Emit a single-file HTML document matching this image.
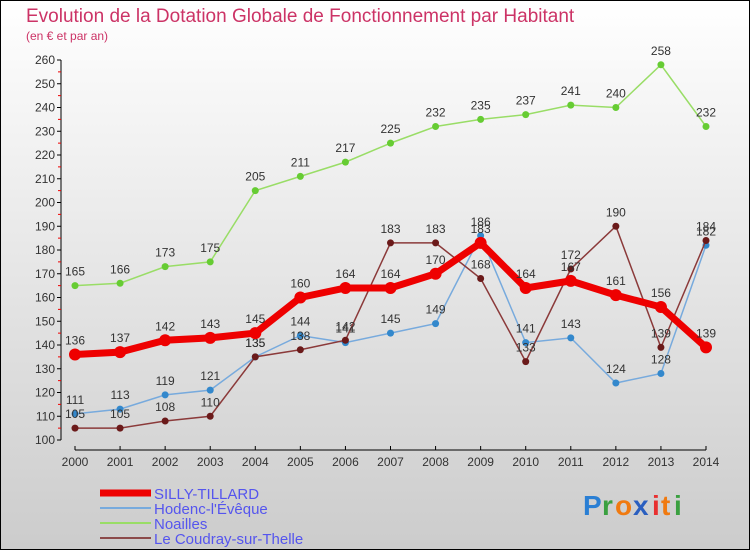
<!DOCTYPE html>
<html><head><meta charset="utf-8"><style>
body{margin:0;width:750px;height:550px;overflow:hidden}
svg text{font-family:"Liberation Sans",sans-serif}
</style></head><body>
<svg id="chart" width="750" height="550" xmlns="http://www.w3.org/2000/svg">
<defs><linearGradient id="bg" x1="0" y1="0" x2="0" y2="1"><stop offset="0" stop-color="#ffffff"/><stop offset="1" stop-color="#cccccc"/></linearGradient></defs>
<rect x="0.5" y="0.5" width="749" height="549" fill="url(#bg)" stroke="#000"/>
<text x="26" y="22" font-size="19" fill="#cc3366">Evolution de la Dotation Globale de Fonctionnement par Habitant</text>
<text x="26" y="40" font-size="12" fill="#cc3366">(en € et par an)</text>
<g id="axes"></g><g id="series"></g><g id="legend"></g>
<g font-size="28" font-weight="bold">
<text x="583" y="515" fill="#2a7fd4">P</text><text x="602" y="515" fill="#3aa040">r</text><text x="615" y="515" fill="#f07a10">o</text><text x="633" y="515" fill="#2a5fc0">x</text><text x="652" y="515" fill="#e83030">i</text><text x="661" y="515" fill="#f07a10">t</text><text x="674" y="515" fill="#3aa040">i</text>
</g>
</svg>
<script>
const years=[2000,2001,2002,2003,2004,2005,2006,2007,2008,2009,2010,2011,2012,2013,2014];
const yTicks=[100,110,120,130,140,150,160,170,180,190,200,210,220,230,240,250,260];
const silly=[136,137,142,143,145,160,164,164,170,183,164,167,161,156,139];
const hodenc=[111,113,119,121,135,144,141,145,149,186,141,143,124,128,182];
const noailles=[165,166,173,175,205,211,217,225,232,235,237,241,240,258,232];
const coudray=[105,105,108,110,135,138,142,183,183,168,133,172,190,139,184];
const NS="http://www.w3.org/2000/svg";
const x=i=>75+i*(706-75)/14;
const y=v=>440-(v-100)*(380/160);
function mk(tag,attrs,parent){const e=document.createElementNS(NS,tag);for(const k in attrs)e.setAttribute(k,attrs[k]);parent.appendChild(e);return e;}
const axes=document.getElementById('axes');
let a=mk('line',{x1:61,y1:y(260),x2:61,y2:y(100),stroke:'#000'},axes);

a=mk('line',{x1:x(0),y1:450,x2:x(14),y2:450,stroke:'#000'},axes);

yTicks.forEach(v=>{mk('line',{x1:57,y1:y(v),x2:61,y2:y(v),stroke:'#000'},axes);
 if(v<260)mk('line',{x1:58,y1:y(v+5),x2:61,y2:y(v+5),stroke:'#e00'},axes);
 const t=mk('text',{x:55,y:y(v)+4,'text-anchor':'end','font-size':12,fill:'#333'},axes);t.textContent=v;
 });
years.forEach((yr,i)=>{mk('line',{x1:x(i),y1:446,x2:x(i),y2:450,stroke:'#000'},axes);
 const t=mk('text',{x:x(i),y:466,'text-anchor':'middle','font-size':12,fill:'#333'},axes);t.textContent=yr;
 });
const ser=document.getElementById('series');
const defs=[['noailles-line',noailles,'#99dd66','#66cc33',1.5,3.5],['hodenc-line',hodenc,'#77aadd','#3388cc',1.5,3.5],['coudray-line',coudray,'#8b3a3a','#6b1a1a',1.5,3.5],['silly-tillard-line',silly,'#ee0000','#ee0000',7,6]];
defs.forEach(([name,d,lc,pc,w,r])=>{
 const g=mk('g',{},ser);
 mk('polyline',{points:d.map((v,i)=>x(i)+','+y(v)).join(' '),fill:'none',stroke:lc,'stroke-width':w},g);
 d.forEach((v,i)=>{const c=mk('circle',{cx:x(i),cy:y(v),r:r,fill:pc},g);
  
  const t=mk('text',{x:x(i),y:y(v)-10,'text-anchor':'middle','font-size':12,fill:'#333'},g);t.textContent=v;
  });
});
const leg=document.getElementById('legend');
[['SILLY-TILLARD','#ee0000',7],["Hodenc-l'Évêque",'#77aadd',2],['Noailles','#99dd66',2],['Le Coudray-sur-Thelle','#8b4a4a',2]].forEach(([n,c,w],i)=>{
 const g=mk('g',{},leg);
 const ly=493+i*15;
 mk('line',{x1:100,y1:ly+0,x2:151,y2:ly+0,stroke:c,'stroke-width':w},g);
 const t=mk('text',{x:154,y:ly+6,'font-size':15,fill:'#5555ee'},g);t.textContent=n;});
</script>
</body></html>
